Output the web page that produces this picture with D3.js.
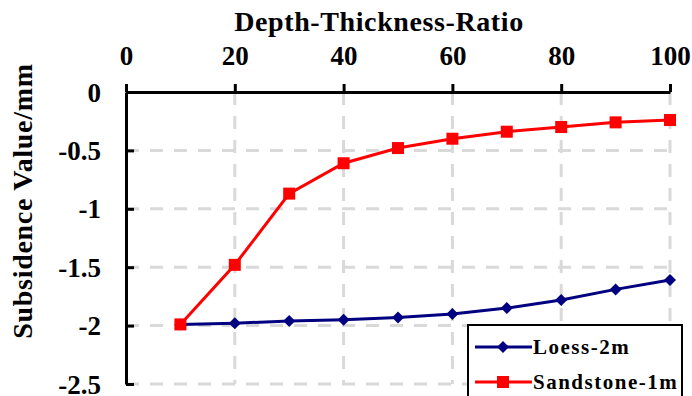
<!DOCTYPE html>
<html>
<head>
<meta charset="utf-8">
<script src="https://cdn.jsdelivr.net/npm/d3@7"></script>
<style>
  body { margin: 0; background: #fff; }
  #chart text { font-family: "Liberation Serif", "Times New Roman", serif !important; font-weight: bold !important; }
</style>
</head>
<body>
<svg id="chart" width="692" height="396" font-family="Liberation Serif" font-weight="bold"></svg>
<script>
// data
const ratios = [10, 20, 30, 40, 50, 60, 70, 80, 90, 100];
const loess = [-1.99, -1.98, -1.96, -1.95, -1.93, -1.90, -1.85, -1.78, -1.69, -1.61];
const sandstone = [-1.99, -1.48, -0.87, -0.61, -0.48, -0.40, -0.34, -0.30, -0.26, -0.24];
const xTicks = [0, 20, 40, 60, 80, 100];
const yTicks = [0, -0.5, -1, -1.5, -2, -2.5];
const seriesNames = ["Loess-2m", "Sandstone-1m"];

const FONT = "Liberation Serif";
const svg = d3.select("#chart");

const x = d3.scaleLinear().domain([0, 100]).range([126, 670]);
const y = d3.scaleLinear().domain([0, -2.5]).range([92, 384]);

// grid
const grid = svg.append("g")
  .attr("stroke", "#d9d9d9")
  .attr("stroke-width", 3)
  .attr("stroke-dasharray", "13,11");
grid.selectAll("line.v").data(xTicks.slice(1)).join("line")
  .attr("x1", d => x(d)).attr("x2", d => x(d))
  .attr("y1", y(0)).attr("y2", y(-2.5));
grid.selectAll("line.h").data(yTicks.slice(1)).join("line")
  .attr("y1", d => y(d)).attr("y2", d => y(d))
  .attr("x1", x(0)).attr("x2", x(100));

// axes
const xAxis = svg.append("g")
  .attr("transform", `translate(0,${y(0)})`)
  .call(d3.axisTop(x).tickValues(xTicks).tickSize(8).tickSizeOuter(0).tickPadding(19));
const yAxis = svg.append("g")
  .attr("transform", `translate(${x(0)},0)`)
  .call(d3.axisRight(y).tickValues(yTicks).tickSize(8).tickSizeOuter(0).tickFormat(d => String(d)));

[xAxis, yAxis].forEach(ax => {
  ax.attr("font-family", FONT).attr("font-size", 27).attr("font-weight", "bold");
  ax.select(".domain").attr("stroke", "#000").attr("stroke-width", 3);
  ax.selectAll(".tick line").attr("stroke", "#000").attr("stroke-width", 3);
  ax.selectAll(".tick text").attr("fill", "#000");
});
yAxis.selectAll(".tick text")
  .attr("x", -25).attr("text-anchor", "end").attr("dy", "0.34em");

// titles
svg.append("text")
  .attr("x", 379).attr("y", 31)
  .attr("text-anchor", "middle")
  .attr("font-size", 28)
  .attr("letter-spacing", 0.6)
  .text("Depth-Thickness-Ratio");

svg.append("text")
  .attr("transform", "translate(32,201) rotate(-90)")
  .attr("text-anchor", "middle")
  .attr("font-size", 28)
  .attr("letter-spacing", 0.7)
  .text("Subsidence Value/mm");

// series
const line = d3.line().x(d => x(d[0])).y(d => y(d[1]));
const loessPts = ratios.map((r, i) => [r, loess[i]]);
const sandPts = ratios.map((r, i) => [r, sandstone[i]]);

svg.append("path").datum(loessPts)
  .attr("d", line).attr("fill", "none").attr("stroke", "#000080").attr("stroke-width", 3);
svg.selectAll("path.dia").data(loessPts).join("path")
  .attr("class", "dia")
  .attr("transform", d => `translate(${x(d[0])},${y(d[1])}) rotate(45)`)
  .attr("d", d3.symbol(d3.symbolSquare, 72))
  .attr("fill", "#000080");

svg.append("path").datum(sandPts)
  .attr("d", line).attr("fill", "none").attr("stroke", "#ff0000").attr("stroke-width", 3);
svg.selectAll("rect.sq").data(sandPts).join("rect")
  .attr("class", "sq")
  .attr("x", d => x(d[0]) - 6).attr("y", d => y(d[1]) - 6)
  .attr("width", 12).attr("height", 12)
  .attr("fill", "#ff0000");

// legend
const legend = svg.append("g").attr("transform", "translate(468,325)");
legend.append("rect")
  .attr("width", 214).attr("height", 90)
  .attr("fill", "#fff").attr("stroke", "#000").attr("stroke-width", 2);
const colors = ["#000080", "#ff0000"];
seriesNames.forEach((name, i) => {
  const cy = 22 + i * 35;
  legend.append("line")
    .attr("x1", 7).attr("x2", 64).attr("y1", cy).attr("y2", cy)
    .attr("stroke", colors[i]).attr("stroke-width", 3);
  if (i === 0) {
    legend.append("path")
      .attr("transform", `translate(35,${cy}) rotate(45)`)
      .attr("d", d3.symbol(d3.symbolSquare, 72))
      .attr("fill", colors[i]);
  } else {
    legend.append("rect")
      .attr("x", 29).attr("y", cy - 6).attr("width", 12).attr("height", 12)
      .attr("fill", colors[i]);
  }
  legend.append("text")
    .attr("x", 65).attr("y", cy + 7)
    .attr("font-size", 21)
    .attr("letter-spacing", 1.5)
    .text(name);
});
</script>
</body>
</html>
